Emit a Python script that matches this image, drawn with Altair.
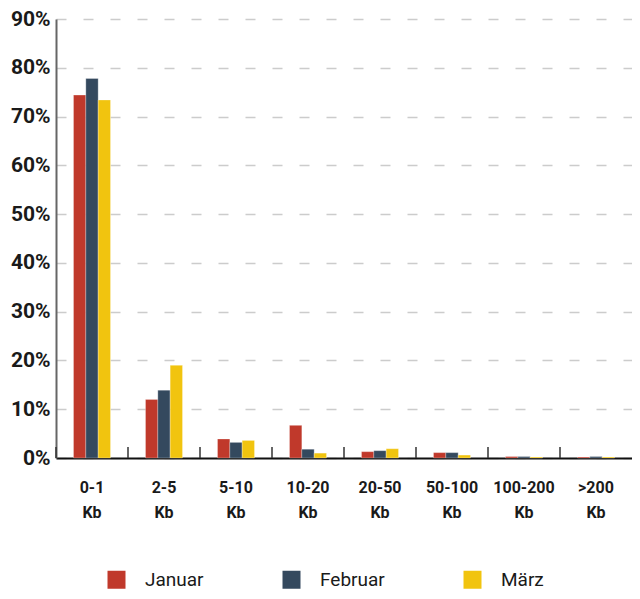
import altair as alt
import pandas as pd

categories = ["0-1 Kb", "2-5 Kb", "5-10 Kb", "10-20 Kb", "20-50 Kb", "50-100 Kb", "100-200 Kb", ">200 Kb"]
series = ["Januar", "Februar", "März"]
januar = [74.4, 12.0, 3.9, 6.7, 1.3, 1.1, 0.3, 0.2]
februar = [77.8, 13.9, 3.2, 1.8, 1.5, 1.1, 0.3, 0.3]
maerz = [73.4, 19.0, 3.6, 1.0, 1.9, 0.6, 0.2, 0.2]
colors = ["#C0392B", "#34495E", "#F1C40F"]
y_ticks = [0, 0.1, 0.2, 0.3, 0.4, 0.5, 0.6, 0.7, 0.8, 0.9]

rows = []
for name, vals in zip(series, [januar, februar, maerz]):
    for c, v in zip(categories, vals):
        rows.append({"cat": c, "series": name, "value": v / 100})
df = pd.DataFrame(rows)
cat_df = pd.DataFrame({"cat": categories})

FONT = "Roboto"
W, H = 576, 439
STEP = W / len(categories)
GROUP = 37

x_enc = alt.X(
    "cat:N",
    sort=categories,
    scale=alt.Scale(paddingInner=0, paddingOuter=0),
    axis=alt.Axis(
        title=None,
        labelAngle=0,
        ticks=False,
        labelExpr="split(datum.label, ' ')",
        labelLineHeight=25,
        labelPadding=21,
        labelFont=FONT,
        labelFontSize=16,
        labelFontWeight="bold",
        labelColor="#1a1a1a",
        domainColor="#111111",
        domainWidth=2,
    ),
)

bars = alt.Chart(df).mark_bar(stroke="white", strokeOpacity=0.35, strokeWidth=0.8).encode(
    x=x_enc,
    xOffset=alt.XOffset("series:N", sort=series,
                        scale=alt.Scale(paddingInner=0, paddingOuter=0,
                                        range=[(STEP - GROUP) / 2, (STEP + GROUP) / 2])),
    y=alt.Y(
        "value:Q",
        scale=alt.Scale(domain=[0, 0.9], nice=False),
        axis=alt.Axis(
            title=None,
            values=y_ticks,
            format=".0%",
            ticks=False,
            labelPadding=6,
            labelFont=FONT,
            labelFontSize=21,
            labelFontWeight="bold",
            labelColor="#1a1a1a",
            domainColor="#666666",
            domainWidth=2,
            grid=True,
            gridColor="#cccccc",
            gridWidth=1.5,
            gridDash=[10, 17],
        ),
    ),
    color=alt.Color(
        "series:N",
        sort=series,
        scale=alt.Scale(domain=series, range=colors),
        legend=alt.Legend(
            title=None,
            orient="none",
            direction="horizontal",
            legendX=51,
            legendY=551,
            symbolType="square",
            symbolSize=324,
            symbolStrokeWidth=0,
            labelFont=FONT,
            labelFontSize=19,
            labelColor="#1a1a1a",
            labelOffset=19,
            columnPadding=78,
        ),
    ),
)

ticks = alt.Chart(cat_df).mark_rule(color="#333333", strokeWidth=1.5).encode(
    x=alt.X("cat:N", sort=categories, bandPosition=0),
    y=alt.value(H - 11),
    y2=alt.value(H),
)

chart = alt.layer(bars, ticks).properties(
    width=W,
    height=H,
    autosize=alt.AutoSizeParams(type="none"),
    padding={"left": 48, "top": 11, "right": 0, "bottom": 133},
).configure_view(stroke=None)

chart.save("out.html", embed_options={"renderer": "svg", "actions": False})
